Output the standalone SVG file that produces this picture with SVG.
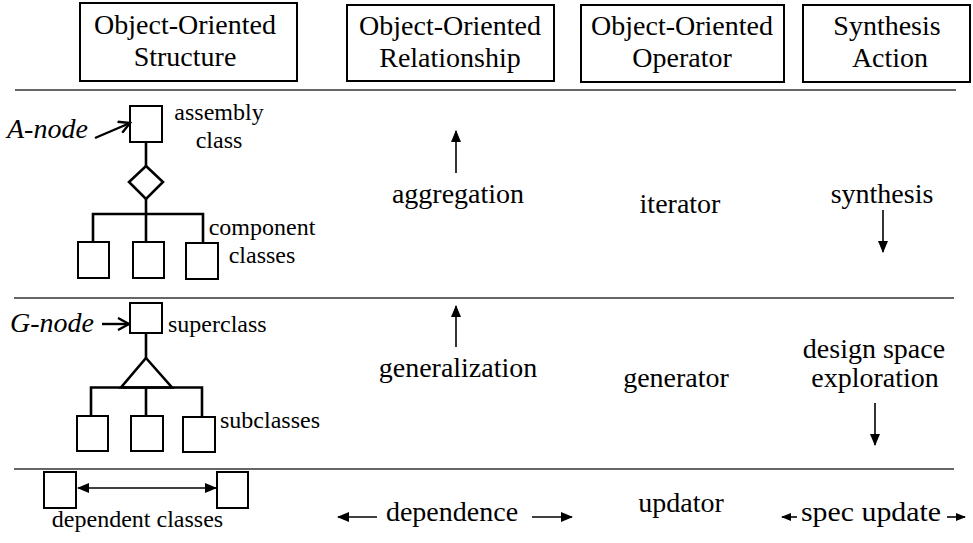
<svg xmlns="http://www.w3.org/2000/svg" width="973" height="543" viewBox="0 0 973 543" font-family="'Liberation Serif', 'Times New Roman', 'DejaVu Serif', serif">
  <style>
    text { font-family: 'Liberation Serif', 'Times New Roman', 'DejaVu Serif', serif; fill: #000; }
    .hdr { font-size: 28px; text-anchor: middle; }
    .big { font-size: 28px; text-anchor: middle; }
    .lbl { font-size: 24px; }
    .ital { font-size: 28px; font-style: italic; }
    .box { fill: #fff; stroke: #000; stroke-width: 2; }
    .cls { fill: #fff; stroke: #000; stroke-width: 2; }
    .tree { fill: none; stroke: #000; stroke-width: 2.6; }
    .sep { stroke: #666; stroke-width: 2; }
    .arr { stroke: #000; stroke-width: 1.6; fill: none; }
    .ptr { stroke: #000; stroke-width: 2.4; fill: none; }
  </style>
  <defs>
    <marker id="head" markerUnits="userSpaceOnUse" markerWidth="12" markerHeight="10" refX="11" refY="5" orient="auto-start-reverse">
      <path d="M0,0 L12,5 L0,10 Z" fill="#000"/>
    </marker>
    <marker id="headS" markerUnits="userSpaceOnUse" markerWidth="10" markerHeight="8" refX="9" refY="4" orient="auto">
      <path d="M0,0 L10,4 L0,8 Z" fill="#000"/>
    </marker>
    <marker id="open" markerUnits="userSpaceOnUse" markerWidth="14" markerHeight="14" refX="12" refY="7" orient="auto">
      <path d="M1,1 L12,7 L1,13" fill="none" stroke="#000" stroke-width="2.4"/>
    </marker>
  </defs>

  <!-- column headers -->
  <g id="hdr-structure">
    <rect class="box" x="80" y="3" width="217" height="78"/>
    <text class="hdr" x="185" y="34">Object-Oriented</text>
    <text class="hdr" x="185" y="66">Structure</text>
  </g>
  <g id="hdr-relationship">
    <rect class="box" x="347" y="5" width="207" height="76"/>
    <text class="hdr" x="450" y="35">Object-Oriented</text>
    <text class="hdr" x="450" y="67">Relationship</text>
  </g>
  <g id="hdr-operator">
    <rect class="box" x="581" y="5" width="203" height="77"/>
    <text class="hdr" x="682" y="35">Object-Oriented</text>
    <text class="hdr" x="682" y="67">Operator</text>
  </g>
  <g id="hdr-action">
    <rect class="box" x="803" y="5" width="167" height="77"/>
    <text class="hdr" x="887" y="35">Synthesis</text>
    <text class="hdr" x="890" y="67">Action</text>
  </g>

  <!-- row separators -->
  <g id="separators">
    <line class="sep" x1="15" y1="90" x2="956" y2="90"/>
    <line class="sep" x1="14" y1="298" x2="954" y2="298"/>
    <line class="sep" x1="14" y1="469" x2="954" y2="469"/>
  </g>

  <!-- aggregation structure -->
  <g id="a-node">
    <text class="ital" x="7" y="138">A-node</text>
    <rect class="cls" x="130" y="106" width="32" height="36"/>
    <text class="lbl" x="219" y="120" text-anchor="middle">assembly</text>
    <text class="lbl" x="219" y="148" text-anchor="middle">class</text>
  </g>
  <g id="a-diamond">
    <polygon class="tree" points="146,166 163,182 146,199 129,182"/>
  </g>
  <g id="a-components">
    <rect class="cls" x="78" y="242" width="31" height="36"/>
    <rect class="cls" x="133" y="242" width="31" height="36"/>
    <rect class="cls" x="186" y="243" width="32" height="36"/>
    <text class="lbl" x="262" y="235" text-anchor="middle">component</text>
    <text class="lbl" x="262" y="263" text-anchor="middle">classes</text>
  </g>

  <!-- generalization structure -->
  <g id="g-node">
    <text class="ital" x="10" y="332">G-node</text>
    <rect class="cls" x="130" y="303" width="32" height="30"/>
    <text class="lbl" x="168" y="332">superclass</text>
  </g>
  <g id="g-triangle">
    <polygon class="tree" points="146,358 172,387.5 121,387.5"/>
  </g>
  <g id="g-subclasses">
    <rect class="cls" x="77" y="416" width="31" height="35"/>
    <rect class="cls" x="131" y="416" width="32" height="35"/>
    <rect class="cls" x="183" y="417" width="32" height="35"/>
    <text class="lbl" x="220" y="428">subclasses</text>
  </g>

  <!-- dependence structure -->
  <g id="dependent">
    <rect class="cls" x="44" y="472" width="32" height="36"/>
    <rect class="cls" x="217" y="472" width="31" height="36"/>
    <text class="lbl" x="137.5" y="527" text-anchor="middle">dependent classes</text>
  </g>

  <!-- relationship / operator / action labels -->
  <g id="row-aggregation">
    <text class="big" x="458" y="203">aggregation</text>
    <text class="big" x="680" y="213">iterator</text>
    <text class="big" x="882" y="203">synthesis</text>
  </g>
  <g id="row-generalization">
    <text class="big" x="458" y="377">generalization</text>
    <text class="big" x="676" y="387">generator</text>
    <text class="big" x="874" y="358">design space</text>
    <text class="big" x="875" y="387">exploration</text>
  </g>
  <g id="row-dependence">
    <text class="big" x="452" y="521">dependence</text>
    <text class="big" x="681" y="512">updator</text>
    <text class="big" x="871" y="521" textLength="140" lengthAdjust="spacingAndGlyphs">spec update</text>
  </g>

  <!-- connectors -->
  <g id="connectors">
    <line class="ptr" x1="95" y1="138" x2="130" y2="123" marker-end="url(#open)"/>
    <line class="ptr" x1="102" y1="324" x2="129" y2="324" marker-end="url(#open)"/>

    <path class="tree" d="M146,142 V166 M146,199 V214 M93,242 V214 H203 V243 M146,214 V242"/>
    <path class="tree" d="M146,333 V358 M91,416 V387.5 H202 V417 M146,387.5 V416"/>

    <line class="arr" x1="78" y1="488" x2="216" y2="488" marker-start="url(#head)" marker-end="url(#head)"/>

    <line class="arr" x1="456" y1="173" x2="456" y2="131" marker-end="url(#head)"/>
    <line class="arr" x1="456" y1="347" x2="456" y2="306" marker-end="url(#head)"/>
    <line class="arr" x1="883" y1="210" x2="883" y2="252" marker-end="url(#head)"/>
    <line class="arr" x1="875" y1="403" x2="875" y2="445" marker-end="url(#head)"/>

    <line class="arr" x1="377" y1="517" x2="338" y2="517" marker-end="url(#head)"/>
    <line class="arr" x1="532" y1="517" x2="572" y2="517" marker-end="url(#head)"/>
    <line class="arr" x1="797" y1="517" x2="782" y2="517" marker-end="url(#headS)"/>
    <line class="arr" x1="947" y1="517" x2="965" y2="517" marker-end="url(#headS)"/>
  </g>
</svg>
